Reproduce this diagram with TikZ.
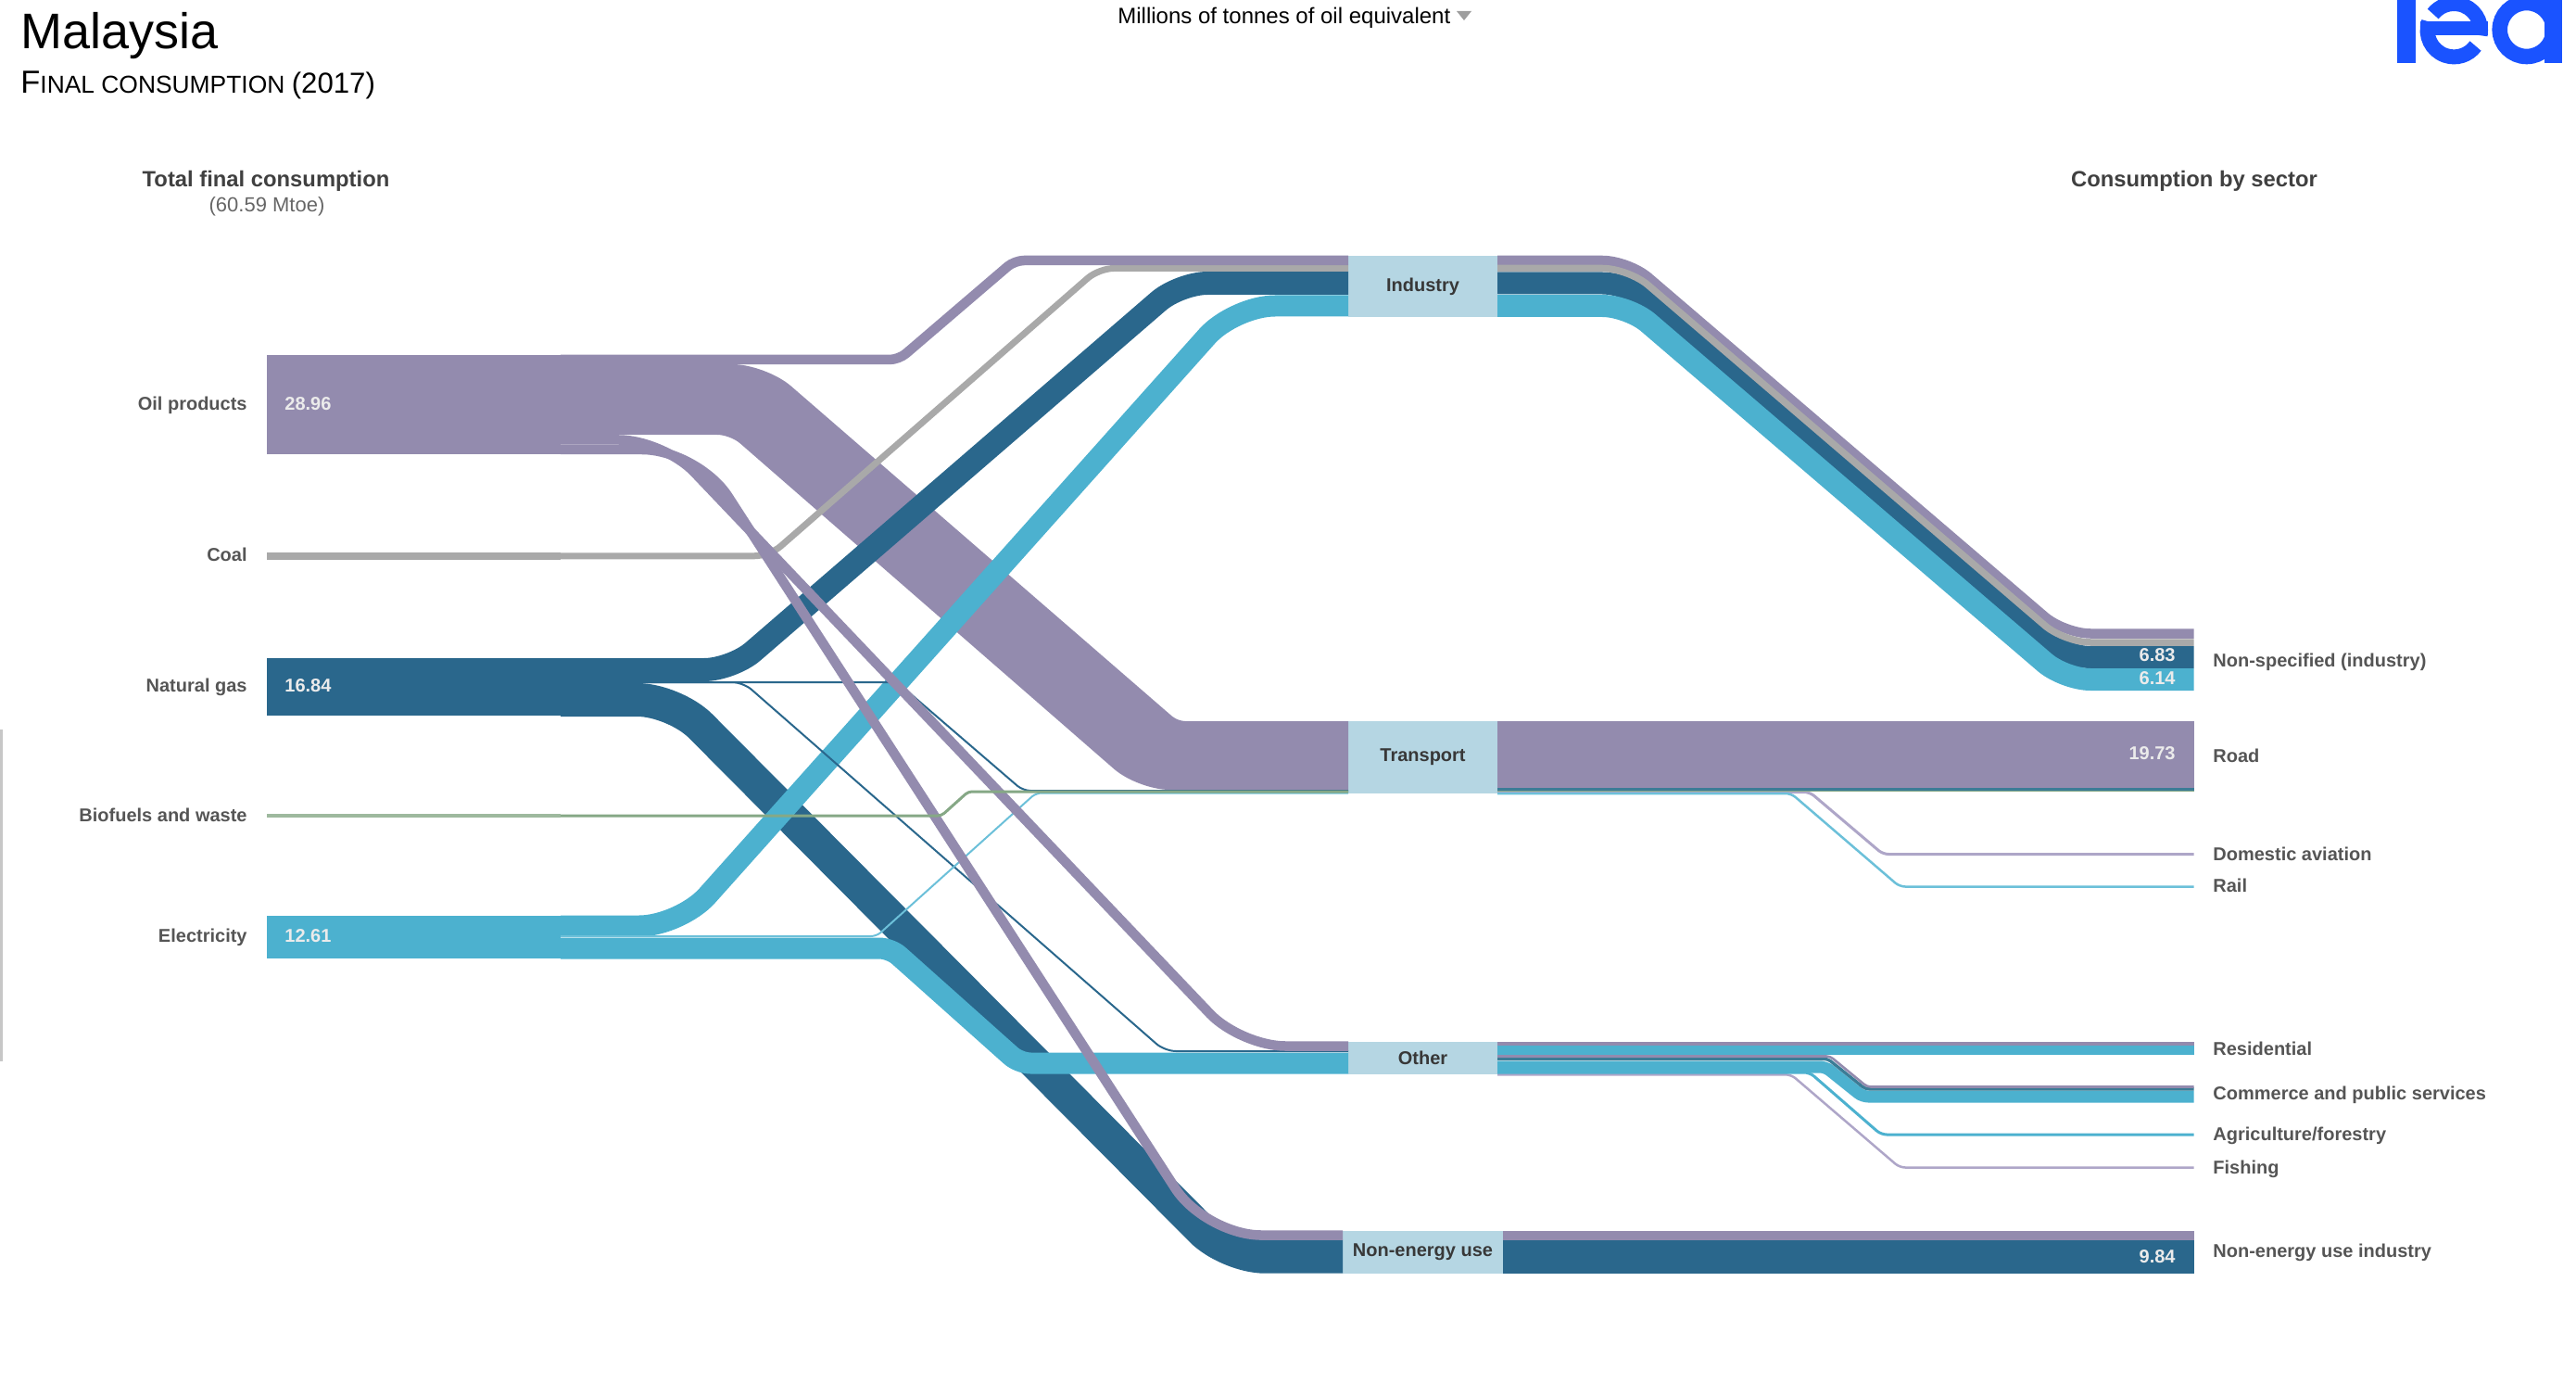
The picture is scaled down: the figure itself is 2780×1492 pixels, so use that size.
\documentclass[tikz,border=0pt]{standalone}
\usepackage{fontspec}
\setmainfont{Liberation Sans}
\definecolor{oilc}{HTML}{938BAE}
\definecolor{gasc}{HTML}{2A678C}
\definecolor{elecc}{HTML}{4CB1CF}
\definecolor{coalc}{HTML}{A9A9A9}
\definecolor{bioc}{HTML}{86A886}
\definecolor{boxc}{HTML}{B5D6E3}
\definecolor{thinoil}{HTML}{AEA6C8}
\definecolor{thinel}{HTML}{6CC0D9}
\definecolor{thingas}{HTML}{3B7C96}
\definecolor{logoc}{HTML}{1A53FF}
\definecolor{labc}{HTML}{555555}
\tikzset{
  block/.style 2 args={rectangle,fill=#1,minimum width=317*0.5pt,minimum height=#2*0.5pt,inner sep=0pt,outer sep=0pt},
  hub/.style 2 args={rectangle,fill=boxc,minimum width=#1*0.5pt,minimum height=#2*0.5pt,inner sep=0pt,outer sep=0pt,
    font=\fontsize{10}{12}\selectfont\bfseries,text=black!78},
  flow/.style 2 args={draw=#1,line width=#2*0.5pt,line cap=butt,line join=round},
  srclab/.style={anchor=mid east,inner sep=0pt,font=\fontsize{10}{12}\selectfont\bfseries,text=labc},
  seclab/.style={anchor=mid west,inner sep=0pt,font=\fontsize{10}{12}\selectfont\bfseries,text=labc},
  valL/.style={anchor=mid west,inner sep=0pt,font=\fontsize{10}{12}\selectfont\bfseries,text=white!92!black},
  valR/.style={anchor=mid east,inner sep=0pt,font=\fontsize{10}{12}\selectfont\bfseries,text=white!92!black},
  head/.style={anchor=mid,inner sep=0pt,font=\fontsize{11.9}{14}\selectfont\bfseries,text=black!75},
}
\begin{document}
\begin{tikzpicture}[x=0.5pt,y=-0.5pt]
\useasboundingbox (0,0) rectangle (2780,1492);
\fill[black!22] (0,787) rectangle (2.5,1145);

% sources
\node[block={oilc}{107.4}]  (oil)  at (446.5,436.3) {};
\node[block={coalc}{7.5}]   (coal) at (446.5,599.75) {};
\node[block={gasc}{62.3}]   (gas)  at (446.5,741.15) {};
\node[block={bioc!80!white}{3.5}]    (bio)  at (446.5,880) {};
\node[block={elecc}{46.3}]  (elec) at (446.5,1010.85) {};

% hubs
\node[hub={161}{66}] (ind) at (1535.5,309) {Industry};
\node[hub={161}{78}] (tra) at (1535.5,817) {Transport};
\node[hub={161}{35}] (oth) at (1535.5,1141.5) {Other};
\node[hub={173}{46}] (noe) at (1535.5,1351) {Non-energy use};

\coordinate (endx) at (2367.5,0);

% left flows
\fill[oilc] (oil.east |- 0,393) [rounded corners=18pt] -- (826.5,393) [rounded corners=4pt] -- (1271,778) [sharp corners] -- (tra.west |- 0,778)
   -- (tra.west |- 0,852) [rounded corners=17pt] -- (1228,852) [rounded corners=7pt] -- (788,469) [sharp corners] -- (oil.east |- 0,469) -- cycle;
\draw[flow={gasc}{36},rounded corners=20pt] (gas.east |- 0,755) -- (728,755) -- (1325,1355.7) -- (noe.west |- 0,1355.7);
\draw[flow={gasc}{25},rounded corners=15pt] (gas.east |- 0,722.5) -- (790,722.5) -- (1273,305.5) -- (ind.west |- 0,305.5);
\draw[flow={elecc}{23},rounded corners=22pt] (elec.east |- 0,999) -- (734,999) -- (1332,330) -- (ind.west |- 0,330);
\draw[flow={elecc}{23},rounded corners=6pt] (elec.east |- 0,1023) -- (961,1023) -- (1100,1147) -- (oth.west |- 0,1147);
\draw[flow={coalc}{7},rounded corners=8pt] (coal.east) -- (830.5,599.75) -- (1186,289.5) -- (ind.west |- 0,289.5);
\draw[flow={oilc}{10.5},rounded corners=5pt] (oil.east |- 0,388) -- (970,388) -- (1095,281) -- (ind.west |- 0,281);

\draw[flow={gasc}{2},rounded corners=6pt] (gas.east |- 0,736) -- (802,736) -- (1257,1134) -- (oth.west |- 0,1134);
\draw[flow={gasc}{2},rounded corners=4pt] (gas.east |- 0,736) -- (968,736) -- (1104,853) -- (tra.west |- 0,853);
\draw[flow={thinel}{2},rounded corners=3pt] (elec.east |- 0,1010) -- (946,1010) -- (1118,855.5) -- (tra.west |- 0,855.5);

\draw[flow={oilc}{10.5},rounded corners=24pt] (oil.east |- 0,474.5) -- (716,474.5) -- (1339,1128.5) -- (oth.west |- 0,1128.5);
\draw[flow={oilc}{10.5},rounded corners=30pt] (oil.east |- 0,485) -- (753,485) -- (1301,1332.5) -- (noe.west |- 0,1332.5);
\draw[flow={bioc}{3},rounded corners=2pt] (bio.east) -- (1016,880) -- (1045,854) -- (tra.west |- 0,854);

% industry to the right
\draw[flow={gasc}{24},rounded corners=14pt] (ind.east |- 0,305.5) -- (1757.5,305.5) -- (2228,709) -- (endx |- 0,709);
\draw[flow={oilc}{10.5},rounded corners=14pt] (ind.east |- 0,281) -- (1757.5,281) -- (2228,683.5) -- (endx |- 0,683.5);
\draw[flow={coalc}{7.5},rounded corners=14pt] (ind.east |- 0,289.5) -- (1757.5,289.5) -- (2228,693) -- (endx |- 0,693);
\draw[flow={elecc}{24},rounded corners=14pt] (ind.east |- 0,330) -- (1757.5,330) -- (2228,733) -- (endx |- 0,733);

% transport to the right
\draw[flow={thinoil}{3},rounded corners=3pt] (tra.east |- 0,854.5) -- (1953,854.5) -- (2032,921.5) -- (endx |- 0,921.5);
\draw[flow={thinel}{2.5},rounded corners=3pt] (tra.east |- 0,856) -- (1933,856) -- (2050,956.5) -- (endx |- 0,956.5);
\draw[flow={oilc}{72}] (tra.east |- 0,814) -- (endx |- 0,814);
\draw[flow={thingas}{3.4}] (tra.east |- 0,851.7) -- (endx |- 0,851.7);
\draw[flow={bioc}{1.2}] (tra.east |- 0,853.8) -- (endx |- 0,853.8);

% other to the right
\draw[flow={thinoil}{2.5},rounded corners=3pt] (oth.east |- 0,1159.3) -- (1933,1159.3) -- (2050,1259.5) -- (endx |- 0,1259.5);
\draw[flow={elecc}{3},rounded corners=3pt] (oth.east |- 0,1157) -- (1953,1157) -- (2030,1224) -- (endx |- 0,1224);
\draw[flow={elecc}{13},rounded corners=3pt] (oth.east |- 0,1151) -- (1970,1151) -- (2010,1183) -- (endx |- 0,1183);
\draw[flow={thingas}{3.4},rounded corners=2pt] (oth.east |- 0,1142.3) -- (1972.5,1142.3) -- (2013,1174.8) -- (endx |- 0,1174.8);
\draw[flow={oilc}{2.6},rounded corners=2pt] (oth.east |- 0,1139.5) -- (1975,1139.5) -- (2015,1172.5) -- (endx |- 0,1172.5);
\draw[flow={oilc}{4.3}] (oth.east |- 0,1126.1) -- (endx |- 0,1126.1);
\draw[flow={elecc}{10}] (oth.east |- 0,1133.3) -- (endx |- 0,1133.3);

% non-energy to the right
\draw[flow={oilc}{9.7}] (noe.east |- 0,1332.8) -- (endx |- 0,1332.8);
\draw[flow={gasc}{36.4}] (noe.east |- 0,1355.8) -- (endx |- 0,1355.8);

% source labels and values
\node[srclab] (lo) at (267,437) {Oil products};
\node[srclab] (lc) at (267,600) {Coal};
\node[srclab] (lg) at (267,741) {Natural gas};
\node[srclab] (lb) at (267,881) {Biofuels and waste};
\node[srclab] (le) at (267,1011) {Electricity};
\node[valL] (vo) at (307,437) {28.96};
\node[valL] (vg) at (307,741) {16.84};
\node[valL] (ve) at (307,1011) {12.61};

% sector labels and values
\node[seclab] (s1) at (2388,714) {Non-specified (industry)};
\node[seclab] (s2) at (2388,817) {Road};
\node[seclab] (s3) at (2388,923) {Domestic aviation};
\node[seclab] (s4) at (2388,957) {Rail};
\node[seclab] (s5) at (2388,1133) {Residential};
\node[seclab] (s6) at (2388,1181) {Commerce and public services};
\node[seclab] (s7) at (2388,1225) {Agriculture/forestry};
\node[seclab] (s8) at (2388,1261) {Fishing};
\node[seclab] (s9) at (2388,1351) {Non-energy use industry};
\node[valR] (v1) at (2348,708.5) {6.83};
\node[valR] (v2) at (2348,733) {6.14};
\node[valR] (v3) at (2348,814.5) {19.73};
\node[valR] (v4) at (2348,1357) {9.84};

% headings
\node[head] (h1) at (287,196) {Total final consumption};
\node[anchor=mid,inner sep=0pt,font=\fontsize{11}{13}\selectfont,text=black!60] (h2) at (288,223) {(60.59 Mtoe)};
\node[head] (h3) at (2368,196) {Consumption by sector};

\node[anchor=base west,inner sep=0pt,font=\fontsize{27}{30}\selectfont] (title) at (22,53) {Malaysia};
\node[anchor=base west,inner sep=0pt] (sub) at (22,101)
  {\fontsize{17.2}{20}\selectfont F\fontsize{13.2}{20}\selectfont\MakeUppercase{inal consumption} \fontsize{15.6}{20}\selectfont(2017)};
\node[anchor=base west,inner sep=0pt,font=\fontsize{12}{14}\selectfont] (unit) at (1206,26) {Millions of tonnes of oil equivalent};
\fill[black!38] (1572,12) -- (1588,12) -- (1580,22) -- cycle;

% logo
\begin{scope}
\clip (2500,0) rectangle (2780,100);
\fill[logoc] (2587.3,-2) rectangle (2606.7,68.3);
\fill[logoc] (2612,23.3) rectangle (2685,38.3);
\draw[logoc,line width=8pt] ([shift={(2648.3,32.7)}]161:14.35pt) arc[start angle=161,end angle=324,radius=14.35pt];
\draw[logoc,line width=8pt] ([shift={(2648.3,32.7)}]-11:14.35pt) arc[start angle=-11,end angle=142,radius=14.35pt];
\fill[logoc] (2745.7,-2) rectangle (2765,68.3);
\draw[logoc,line width=8.3pt] ([shift={(2726.7,32)}]0:14.5pt) arc[start angle=0,end angle=360,radius=14.5pt];
\end{scope}
\end{tikzpicture}
\end{document}
